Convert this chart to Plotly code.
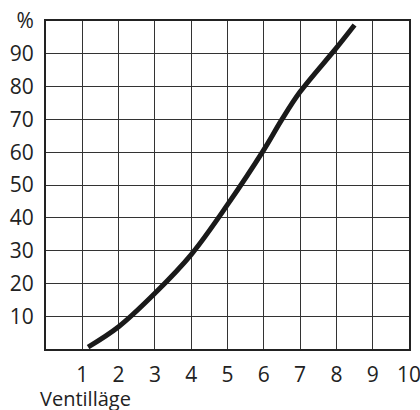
import plotly.graph_objects as go

valve_position = [1.16, 2, 3, 4, 5, 6, 6.5, 7, 8, 8.5]
percent = [0.6, 6.8, 17, 28.8, 44, 60.7, 70, 78.4, 91.8, 98.8]

x_ticks = [1, 2, 3, 4, 5, 6, 7, 8, 9, 10]
x_ticktext = ["1", "2", "3", "4", "5", "6", "7", "8", "9", "10"]
y_ticks = [10, 20, 30, 40, 50, 60, 70, 80, 90, 100]
y_ticktext = ["10", "20", "30", "40", "50", "60", "70", "80", "90", "%"]
x_title = "Ventilläge"

FONT = "Open Sans"
FS = 21
TXT = "#222"

fig = go.Figure()
fig.add_trace(go.Scatter(
    x=valve_position, y=percent, mode="lines",
    line=dict(color="#1a1a1a", width=5, shape="spline", smoothing=1),
    showlegend=False, hoverinfo="skip",
))

fig.update_layout(
    width=420, height=410,
    margin=dict(l=46, r=11, t=21, b=61),
    plot_bgcolor="white", paper_bgcolor="white",
    font=dict(family=FONT, size=FS, color=TXT),
    xaxis=dict(
        range=[0, 10], tickvals=x_ticks, ticktext=x_ticktext,
        showgrid=True, gridcolor="#333", gridwidth=1,
        showline=True, linecolor="#222", linewidth=2, mirror=True,
        zeroline=False, ticks="", ticklabelstandoff=6, automargin=False,
        ticklabeloverflow="allow",
        tickfont=dict(family=FONT, size=FS, color=TXT),
    ),
    yaxis=dict(
        range=[0, 100], tickvals=y_ticks, ticktext=y_ticktext,
        showgrid=True, gridcolor="#333", gridwidth=1,
        showline=True, linecolor="#222", linewidth=2, mirror=True,
        zeroline=False, ticks="", ticklabelstandoff=6, automargin=False,
        ticklabeloverflow="allow",
        tickfont=dict(family=FONT, size=FS, color=TXT),
    ),
    annotations=[dict(
        text=x_title, xref="paper", yref="paper",
        x=-0.022, y=-0.105, xanchor="left", yanchor="top",
        showarrow=False, font=dict(family=FONT, size=20, color=TXT),
    )],
)

fig.write_html("out.html", config={"displayModeBar": False},
               post_script="document.body.style.margin='0';")
